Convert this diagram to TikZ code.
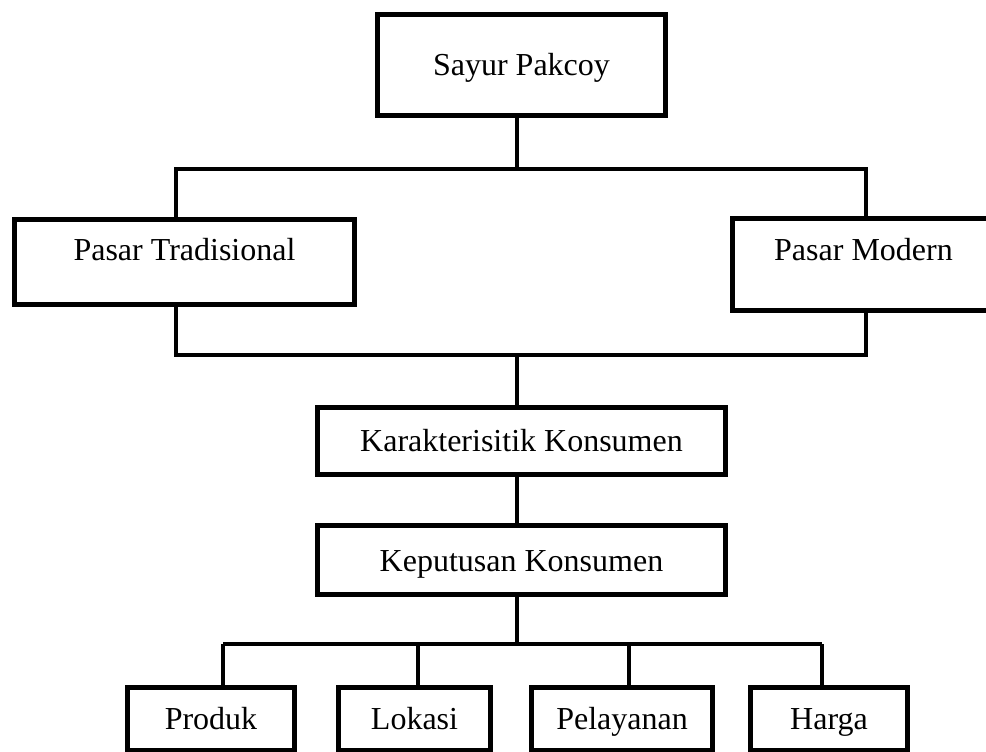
\documentclass[tikz,border=0pt]{standalone}
\usepackage{fontspec}
\setmainfont{Liberation Serif}
\begin{document}
\begin{tikzpicture}[x=1pt, y=-1pt,
        box/.style={draw, line width=5pt, inner sep=0pt, text height=22pt, text depth=0pt,
            font=\fontsize{32}{38}\selectfont},
        link/.style={line width=4.5pt}]
        \useasboundingbox (0,0) rectangle (986,752);
        % kotak
        \node[box, minimum width=288pt, minimum height=101pt] (sayur) at (521.5,65) {Sayur Pakcoy};
        \node[box, minimum width=340pt, minimum height=85pt, text depth=25pt] (tradisional) at (184.5,261.5) {Pasar Tradisional};
        \node[box, minimum width=262pt, minimum height=92pt, text depth=31pt] (modern) at (863.5,264.5) {Pasar Modern};
        \node[box, minimum width=408pt, minimum height=67.5pt] (karakteristik) at (521.5,440.75) {Karakterisitik Konsumen};
        \node[box, minimum width=408pt, minimum height=69pt] (keputusan) at (521.5,560) {Keputusan Konsumen};
        \foreach \n/\x/\w/\t in {produk/211/167/Produk,lokasi/414.5/152/Lokasi,pelayanan/622/181/Pelayanan,harga/829/157/Harga}
            {\node[box, minimum width=\w pt, minimum height=62.5pt] (\n) at (\x,718.75) {\t};}

        % garis
        \coordinate (split) at (517,169);
        \coordinate (split-l) at (176,169);
        \coordinate (split-r) at (866,169);
        \coordinate (join) at (517,355);
        \coordinate (join-l) at (176,355);
        \coordinate (join-r) at (866,355);
        \coordinate (fork) at (517,644);
        \draw[link] (sayur.south -| split) -- (split);
        \draw[link] (tradisional.north -| split-l) -- (split-l) -- (split-r) -- (modern.north -| split-r);
        \draw[link] (tradisional.south -| join-l) -- (join-l) -- (join-r) -- (modern.south -| join-r);
        \draw[link] (join) -- (karakteristik.north -| join);
        \draw[link] (karakteristik.south -| join) -- (keputusan.north -| join);
        \draw[link] (keputusan.south -| fork) -- (fork);
        \foreach \n/\x in {produk/223,lokasi/418,pelayanan/629,harga/822}
            {\coordinate (fork-\n) at (\x,644);
             \draw[link] (fork-\n) -- (\n.north -| fork-\n);}
        \draw[link] (fork-produk) -- (fork-harga);
\end{tikzpicture}
\end{document}
